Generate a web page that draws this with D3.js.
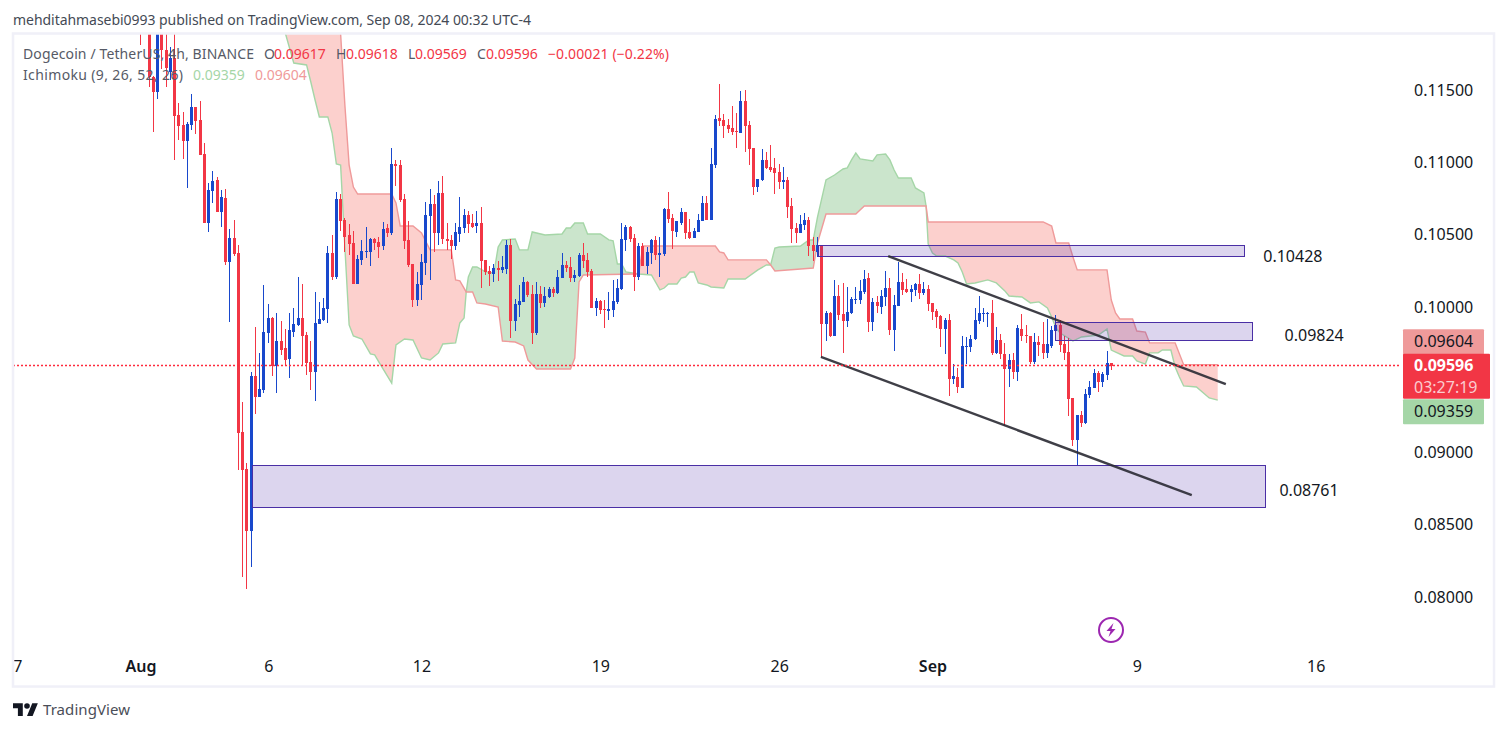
<!DOCTYPE html>
<html>
<head>
<meta charset="utf-8">
<script src="https://cdn.jsdelivr.net/npm/d3@7"></script>
<style>
html, body { margin: 0; background: #fff; }
svg { display: block; }
text { font-family: "Noto Sans", sans-serif; }
</style>
</head>
<body>
<svg id="chart" width="1507" height="731"></svg>
<script>
// 4h candles, bar 0 = Aug 1 00:00, one row per bar: open, high, low, close
const ohlc = [
[0.12400,0.12500,0.11810,0.12000],[0.12600,0.12700,0.12150,0.12300],[0.12300,0.12400,0.11521,0.11590],[0.11590,0.11600,0.11210,0.11486],
[0.11486,0.12200,0.11438,0.12100],[0.12100,0.12250,0.11645,0.11776],[0.11776,0.11890,0.11521,0.11652],[0.11624,0.11797,0.11569,0.11721],
[0.11721,0.11950,0.11017,0.11321],[0.11327,0.11410,0.11155,0.11251],[0.11258,0.11348,0.11024,0.11148],[0.11148,0.11279,0.10824,0.11265],
[0.11258,0.11472,0.11224,0.11383],[0.11383,0.11383,0.11196,0.11286],[0.11293,0.11424,0.11051,0.11051],[0.11058,0.11134,0.10582,0.10582],
[0.10582,0.10858,0.10520,0.10810],[0.10803,0.10941,0.10720,0.10873],[0.10879,0.10899,0.10658,0.10658],[0.10658,0.10810,0.10554,0.10761],
[0.10754,0.10817,0.10292,0.10313],[0.10313,0.10540,0.09898,0.10478],[0.10478,0.10603,0.10354,0.10368],[0.10375,0.10430,0.08877,0.09132],
[0.09139,0.09346,0.08138,0.08877],[0.08884,0.08925,0.08055,0.08456],[0.08456,0.09553,0.08207,0.09526],[0.09526,0.09864,0.09263,0.09381],
[0.09381,0.09684,0.09381,0.09436],[0.09429,0.10154,0.09408,0.09830],[0.09823,0.10023,0.09753,0.09926],[0.09926,0.09933,0.09526,0.09595],
[0.09595,0.09961,0.09408,0.09767],[0.09767,0.09905,0.09671,0.09705],[0.09719,0.09850,0.09602,0.09636],[0.09643,0.09961,0.09512,0.09843],
[0.09829,0.09995,0.09795,0.09885],[0.09878,0.10209,0.09871,0.09926],[0.09926,0.10161,0.09595,0.09802],[0.09809,0.09829,0.09533,0.09615],
[0.09622,0.09767,0.09429,0.09553],[0.09553,0.10106,0.09353,0.09892],[0.09885,0.10037,0.09885,0.09919],[0.09912,0.10064,0.09905,0.09995],
[0.09988,0.10423,0.09892,0.10375],[0.10375,0.10499,0.10189,0.10210],[0.10210,0.10796,0.10195,0.10748],[0.10748,0.10782,0.10527,0.10596],
[0.10603,0.10616,0.10382,0.10485],[0.10499,0.10575,0.10361,0.10437],[0.10444,0.10527,0.10161,0.10161],[0.10161,0.10361,0.10161,0.10333],
[0.10327,0.10465,0.10292,0.10389],[0.10382,0.10554,0.10340,0.10389],[0.10382,0.10478,0.10285,0.10471],[0.10471,0.10478,0.10396,0.10444],
[0.10451,0.10485,0.10340,0.10416],[0.10423,0.10589,0.10396,0.10540],[0.10547,0.10575,0.10485,0.10513],[0.10513,0.11100,0.10499,0.10989],
[0.10989,0.11017,0.10837,0.10975],[0.10982,0.11017,0.10727,0.10741],[0.10748,0.10782,0.10402,0.10458],[0.10465,0.10596,0.10278,0.10292],
[0.10299,0.10299,0.10002,0.10050],[0.10050,0.10244,0.10009,0.10161],[0.10154,0.10368,0.10050,0.10313],[0.10306,0.10727,0.10223,0.10637],
[0.10630,0.10817,0.10189,0.10713],[0.10713,0.10775,0.10382,0.10513],[0.10513,0.10872,0.10430,0.10789],[0.10789,0.10907,0.10437,0.10471],
[0.10471,0.10582,0.10396,0.10458],[0.10465,0.10499,0.10333,0.10423],[0.10423,0.10582,0.10396,0.10520],[0.10506,0.10761,0.10451,0.10554],
[0.10547,0.10678,0.10513,0.10637],[0.10637,0.10665,0.10513,0.10575],[0.10582,0.10644,0.10547,0.10554],[0.10561,0.10665,0.10513,0.10582],
[0.10582,0.10692,0.10133,0.10320],[0.10327,0.10327,0.10223,0.10244],[0.10251,0.10285,0.10147,0.10230],[0.10230,0.10299,0.10175,0.10271],
[0.10271,0.10320,0.10182,0.10258],[0.10258,0.10354,0.10237,0.10278],[0.10264,0.10465,0.10230,0.10430],[0.10430,0.10471,0.09788,0.09905],
[0.09905,0.10057,0.09836,0.10023],[0.10016,0.10154,0.09933,0.10043],[0.10037,0.10209,0.10037,0.10175],[0.10175,0.10182,0.10071,0.10085],
[0.10092,0.10154,0.09747,0.09823],[0.09823,0.10175,0.09809,0.10092],[0.10092,0.10147,0.09995,0.10030],[0.10030,0.10140,0.10002,0.10078],
[0.10071,0.10140,0.10064,0.10126],[0.10126,0.10140,0.10071,0.10099],[0.10099,0.10258,0.10092,0.10209],[0.10202,0.10375,0.10202,0.10292],
[0.10292,0.10320,0.10244,0.10271],[0.10278,0.10347,0.10175,0.10202],[0.10202,0.10258,0.10175,0.10223],[0.10216,0.10375,0.10209,0.10361],
[0.10361,0.10444,0.10271,0.10320],[0.10327,0.10375,0.10209,0.10244],[0.10251,0.10264,0.09995,0.09995],[0.09995,0.10064,0.09940,0.10043],
[0.10043,0.10050,0.09954,0.09981],[0.09988,0.10050,0.09857,0.09981],[0.09975,0.10106,0.09912,0.09988],[0.09981,0.10189,0.09933,0.10043],
[0.10037,0.10195,0.10023,0.10133],[0.10126,0.10582,0.10120,0.10471],[0.10465,0.10568,0.10389,0.10554],[0.10554,0.10561,0.10451,0.10471],
[0.10478,0.10506,0.10113,0.10209],[0.10209,0.10444,0.10189,0.10423],[0.10423,0.10444,0.10285,0.10285],[0.10285,0.10416,0.10230,0.10382],
[0.10375,0.10471,0.10299,0.10465],[0.10465,0.10492,0.10327,0.10361],[0.10361,0.10485,0.10209,0.10375],[0.10368,0.10685,0.10354,0.10678],
[0.10678,0.10796,0.10582,0.10610],[0.10616,0.10644,0.10402,0.10527],[0.10520,0.10596,0.10485,0.10596],[0.10582,0.10685,0.10568,0.10658],
[0.10658,0.10658,0.10471,0.10513],[0.10520,0.10610,0.10471,0.10478],[0.10478,0.10547,0.10478,0.10527],[0.10520,0.10644,0.10520,0.10603],
[0.10596,0.10768,0.10596,0.10720],[0.10720,0.10768,0.10603,0.10603],[0.10603,0.11100,0.10603,0.10989],[0.10982,0.11327,0.10962,0.11300],
[0.11307,0.11541,0.11251,0.11286],[0.11293,0.11334,0.11169,0.11251],[0.11258,0.11300,0.11203,0.11231],[0.11238,0.11390,0.11189,0.11210],
[0.11217,0.11341,0.11100,0.11210],[0.11203,0.11493,0.11203,0.11424],[0.11424,0.11500,0.11072,0.11251],[0.11258,0.11286,0.10982,0.11093],
[0.11100,0.11100,0.10775,0.10830],[0.10830,0.10886,0.10796,0.10886],[0.10879,0.11093,0.10872,0.11017],[0.11017,0.11072,0.10955,0.10962],
[0.10969,0.11120,0.10934,0.10948],[0.10962,0.11031,0.10782,0.10927],[0.10934,0.10989,0.10817,0.10865],[0.10865,0.10969,0.10817,0.10879],
[0.10879,0.10899,0.10616,0.10692],[0.10699,0.10754,0.10444,0.10540],[0.10547,0.10582,0.10444,0.10513],[0.10513,0.10637,0.10513,0.10575],
[0.10568,0.10651,0.10534,0.10603],[0.10603,0.10623,0.10354,0.10423],[0.10430,0.10485,0.10320,0.10389],[0.10382,0.10485,0.10347,0.10430],
[0.10430,0.10430,0.09650,0.09885],[0.09885,0.09975,0.09767,0.09961],[0.09961,0.09968,0.09795,0.09802],[0.09802,0.10189,0.09802,0.10078],
[0.10078,0.10154,0.09912,0.09947],[0.09954,0.10168,0.09684,0.09905],[0.09905,0.10140,0.09864,0.09968],[0.09961,0.10071,0.09954,0.10057],
[0.10050,0.10140,0.10023,0.10057],[0.10050,0.10189,0.10023,0.10113],[0.10106,0.10258,0.10092,0.10195],[0.10202,0.10237,0.09829,0.09898],
[0.09898,0.10064,0.09836,0.10037],[0.10037,0.10078,0.09961,0.10009],[0.10002,0.10120,0.09954,0.10078],[0.10071,0.10251,0.10009,0.10133],
[0.10133,0.10202,0.09809,0.09843],[0.09843,0.10085,0.09698,0.10016],[0.10009,0.10313,0.10009,0.10175],[0.10175,0.10237,0.10085,0.10120],
[0.10126,0.10195,0.10099,0.10106],[0.10106,0.10154,0.10037,0.10126],[0.10120,0.10168,0.10078,0.10161],[0.10161,0.10230,0.10057,0.10099],
[0.10099,0.10175,0.10085,0.10126],[0.10126,0.10154,0.09975,0.10023],[0.10030,0.10030,0.09912,0.09968],[0.09975,0.09988,0.09857,0.09933],
[0.09940,0.09947,0.09726,0.09850],[0.09850,0.09926,0.09678,0.09912],[0.09912,0.09954,0.09388,0.09505],[0.09505,0.09609,0.09471,0.09526],
[0.09519,0.09581,0.09408,0.09450],[0.09443,0.09802,0.09443,0.09733],[0.09726,0.09795,0.09609,0.09733],[0.09726,0.09809,0.09692,0.09781],
[0.09781,0.09995,0.09774,0.09912],[0.09905,0.10078,0.09885,0.09961],[0.09954,0.09995,0.09898,0.09961],[0.09954,0.09968,0.09864,0.09961],
[0.09961,0.10050,0.09671,0.09684],[0.09684,0.09864,0.09678,0.09774],[0.09774,0.09816,0.09643,0.09678],[0.09678,0.09753,0.09181,0.09574],
[0.09574,0.09678,0.09450,0.09636],[0.09636,0.09684,0.09505,0.09553],[0.09553,0.09878,0.09491,0.09857],[0.09850,0.09954,0.09767,0.09802],
[0.09809,0.09878,0.09753,0.09802],[0.09802,0.09802,0.09609,0.09622],[0.09622,0.09823,0.09609,0.09760],[0.09760,0.09802,0.09664,0.09740],
[0.09747,0.09898,0.09643,0.09685],[0.09685,0.09919,0.09650,0.09747],[0.09733,0.09871,0.09719,0.09843],[0.09836,0.09947,0.09836,0.09878],
[0.09878,0.09912,0.09692,0.09740],[0.09747,0.09802,0.09636,0.09685],[0.09692,0.09788,0.09250,0.09367],[0.09374,0.09374,0.09043,0.09084],
[0.09084,0.09256,0.08905,0.09256],[0.09256,0.09284,0.09174,0.09201],[0.09201,0.09436,0.09194,0.09402],[0.09395,0.09491,0.09374,0.09450],
[0.09443,0.09574,0.09443,0.09546],[0.09546,0.09560,0.09415,0.09484],[0.09484,0.09553,0.09450,0.09540],[0.09533,0.09698,0.09498,0.09615],
[0.09617,0.09618,0.09569,0.09596]
];

// Ichimoku leading spans: bar numbers and prices, reversal points only
const spanABars = [34,36,39,40,41,42,44,45,46,47,48,49,50,52,54,55,56,59,60,62,64,66,68,70,71,74,75,76,76.5,77,78,79,81,83,84,85,88,89,91,92,95,99,100,101,102,104,105,108,110,111,112,113,114,117,120,122,123,124,126,127,128,129,130,131,133,134,137,138,142,145,147,148,149,150,155,157,158,159,161,163,165,166,167,168,169,172,173,175,176,177,178,181,182,184,184.5,185,186,187,189,191,192,193,194,196,199,201,203,204,207,209,211,213,214,215,216,219,221,225,227,228,231,233,234,236,237,239,240,242,243,244,245,248,251,253];
const spanA = [0.11894,0.11686,0.11673,0.11555,0.11431,0.11314,0.11314,0.11203,0.10989,0.10982,0.10416,0.09878,0.09802,0.09781,0.09678,0.09671,0.09622,0.09477,0.09740,0.09781,0.09774,0.09650,0.09636,0.09685,0.09747,0.09754,0.09892,0.09926,0.10106,0.10209,0.10278,0.10278,0.10244,0.10237,0.10416,0.10465,0.10471,0.10396,0.10396,0.10520,0.10499,0.10506,0.10547,0.10547,0.10582,0.10582,0.10506,0.10506,0.10465,0.10458,0.10299,0.10299,0.10244,0.10230,0.10223,0.10120,0.10133,0.10161,0.10161,0.10202,0.10209,0.10244,0.10244,0.10168,0.10154,0.10140,0.10133,0.10195,0.10195,0.10258,0.10292,0.10292,0.10409,0.10416,0.10423,0.10465,0.10465,0.10623,0.10879,0.10913,0.10955,0.10962,0.11017,0.11065,0.11024,0.11010,0.11052,0.11058,0.11017,0.10948,0.10892,0.10892,0.10824,0.10789,0.10699,0.10437,0.10375,0.10354,0.10354,0.10327,0.10306,0.10244,0.10161,0.10168,0.10189,0.10168,0.10113,0.10078,0.10071,0.10030,0.10037,0.09995,0.09933,0.09857,0.09822,0.09767,0.09795,0.09809,0.09850,0.09705,0.09664,0.09664,0.09629,0.09608,0.09685,0.09685,0.09705,0.09705,0.09588,0.09519,0.09457,0.09450,0.09374,0.09359];
const spanBBars = [46,47,48,49,50,51,59,60,61,64,66,68,73,74,75,76.5,78,79,81,84,85,88,90,91,93,101,102,103,104,116,117,118,135,136,137,138,147,148,149,158,159,161,168,170,184,184.5,185,212,214,215,218,219,220,227,228,229,230,233,234,236,237,243,245,253];
const spanB = [0.12190,0.11887,0.11396,0.10982,0.10830,0.10782,0.10782,0.10720,0.10561,0.10561,0.10513,0.10396,0.10396,0.10189,0.10182,0.10106,0.10106,0.10030,0.10023,0.10002,0.09767,0.09760,0.09733,0.09636,0.09574,0.09574,0.09650,0.10175,0.10223,0.10230,0.10230,0.10423,0.10423,0.10382,0.10375,0.10327,0.10327,0.10292,0.10251,0.10271,0.10444,0.10644,0.10644,0.10699,0.10699,0.10699,0.10589,0.10589,0.10561,0.10444,0.10444,0.10347,0.10258,0.10258,0.10050,0.09961,0.09919,0.09919,0.09836,0.09829,0.09754,0.09754,0.09604,0.09604];
const cloudTwists = [76.5,117,148,184.5];

const priceTicks = [0.115,0.11,0.105,0.1,0.09,0.085,0.08];
const dateBars = [-30,0,30,66,108,150,186,234,276];
const dateLabels = ["27","Aug","6","12","19","26","Sep","9","16"];

// drawn boxes: start bar, end bar, top price, bottom price
const zoneBars = [[26.2,264.1],[159.1,259.2],[214.8,261]];
const zoneTop = [0.08911,0.1043,0.09898];
const zoneBottom = [0.08621,0.10354,0.09771];
const zoneLabels = ["0.08761","0.10428","0.09824"];
const zoneLabelBars = [267.5,263.7,268.7];

// channel lines
const trendBars = [[175.6,254.9],[159.8,246.9]];
const trendPrices = [[0.10354,0.0947],[0.09657,0.08704]];

const spanALast = 0.09359, spanBLast = 0.09604;

const red = "#F23645", blue = "#1848CC", spanAColor = "#A5D6A7", spanBColor = "#EF9A9A";

var svg = d3.select("#chart");
var pane = {left: 13, top: 34, right: 1403, bottom: 687};

var x = d3.scaleLinear().domain([0, 228]).range([140.5, 1111.28]);
var y = d3.scaleLinear().domain([0.08, 0.115]).range([597, 90]);

svg.append("clipPath").attr("id", "pane").append("rect")
	.attr("x", pane.left).attr("y", pane.top)
	.attr("width", pane.right - pane.left).attr("height", pane.bottom - pane.top);

var plot = svg.append("g").attr("clip-path", "url(#pane)");

// cloud fill, one polygon between each pair of twists
var cuts = [34].concat(cloudTwists, [253]);
var polyLine = d3.line().x(d => x(d[0])).y(d => y(d[1]));
var aPts = spanABars.map((b, i) => [b, spanA[i]]);
var bPts = spanBBars.map((b, i) => [b, spanB[i]]);
for (let k = 0; k < cuts.length - 1; k++){
	let pa = aPts.filter(d => d[0] >= cuts[k] && d[0] <= cuts[k + 1]);
	let pb = bPts.filter(d => d[0] >= cuts[k] && d[0] <= cuts[k + 1]);
	let aUp = d3.mean(pa, d => d[1]) > d3.mean(pb, d => d[1]);
	plot.append("path")
		.attr("d", polyLine(pa.concat(pb.slice().reverse())) + "Z")
		.attr("fill", aUp ? "rgba(67,160,71,0.28)" : "rgba(244,67,54,0.25)");
}
plot.append("path").attr("d", polyLine(aPts)).attr("fill", "none").attr("stroke", spanAColor).attr("stroke-width", 1.4);
plot.append("path").attr("d", polyLine(bPts)).attr("fill", "none").attr("stroke", spanBColor).attr("stroke-width", 1.4);

// candles
var px = d => Math.floor(x(d)) + 0.5;
var candles = plot.append("g").attr("shape-rendering", "crispEdges")
	.selectAll("g").data(ohlc).enter().append("g");
candles.append("line")
	.attr("x1", (d, i) => px(i)).attr("x2", (d, i) => px(i))
	.attr("y1", d => y(d[1])).attr("y2", d => y(d[2]))
	.attr("stroke", d => d[3] >= d[0] ? blue : red);
candles.append("rect")
	.attr("x", (d, i) => px(i) - 1.5)
	.attr("width", 3)
	.attr("y", d => Math.round(y(Math.max(d[0], d[3]))))
	.attr("height", d => Math.max(1, Math.round(Math.abs(y(d[0]) - y(d[3])))))
	.attr("fill", d => d[3] >= d[0] ? blue : red);

// last price line
var lastClose = ohlc[ohlc.length - 1][3];
svg.append("line")
	.attr("x1", pane.left).attr("x2", pane.right - 3)
	.attr("y1", Math.floor(y(lastClose)) + 0.5).attr("y2", Math.floor(y(lastClose)) + 0.5)
	.attr("stroke", "#FF2A3C").attr("stroke-dasharray", "2 2").attr("stroke-width", 1.5);

// zones
zoneBars.forEach((b, i) => {
	plot.append("rect")
		.attr("x", Math.round(x(b[0])) + 0.5).attr("width", Math.round(x(b[1]) - x(b[0])))
		.attr("y", Math.round(y(zoneTop[i])) + 0.5).attr("height", Math.round(y(zoneBottom[i]) - y(zoneTop[i])))
		.attr("fill", "rgba(81,45,168,0.2)")
		.attr("stroke", "#4A2FA5").attr("stroke-width", 1);
	svg.append("text")
		.attr("x", x(zoneLabelBars[i]))
		.attr("y", [490.5, 256.5, 335][i])
		.attr("dy", "0.35em")
		.attr("font-size", 16).attr("fill", "#131722")
		.text(zoneLabels[i]);
});

// channel
trendBars.forEach((b, i) => {
	plot.append("line")
		.attr("x1", x(b[0])).attr("x2", x(b[1]))
		.attr("y1", y(trendPrices[i][0])).attr("y2", y(trendPrices[i][1]))
		.attr("stroke", "#2A2A33").attr("stroke-opacity", 0.9).attr("stroke-width", 2.4);
});

// axes
svg.append("g").attr("transform", "translate(1414,0)")
	.call(d3.axisRight(y).tickValues(priceTicks).tickFormat(d => d.toFixed(5)).tickSize(0).tickPadding(0))
	.call(g => g.select(".domain").remove())
	.call(g => g.selectAll("text").attr("font-size", 16).attr("fill", "#131722").style("font-family", '"Noto Sans", sans-serif'));

var xAxisG = svg.append("g").attr("clip-path", "url(#pane)");
xAxisG.append("g").attr("transform", "translate(0,661)")
	.call(d3.axisBottom(x).tickValues(dateBars).tickFormat((d, i) => dateLabels[i]).tickSize(0).tickPadding(0))
	.call(g => g.select(".domain").remove())
	.call(g => g.selectAll("text").attr("font-size", 16).attr("fill", "#131722")
		.attr("font-weight", (d, i) => (dateLabels[i] == "Aug" || dateLabels[i] == "Sep") ? 600 : 400)
		.style("font-family", '"Noto Sans", sans-serif'));

// frame
svg.append("rect")
	.attr("x", pane.left).attr("y", pane.top - 0.5)
	.attr("width", 1481).attr("height", pane.bottom - pane.top)
	.attr("fill", "none").attr("stroke", "#F0F0F8").attr("stroke-width", 2.5);

// price tags on the scale
function tag(top, h, w, fill){
	svg.append("rect").attr("x", 1403).attr("y", top).attr("width", w).attr("height", h).attr("fill", fill).attr("rx", 1);
}
tag(y(spanBLast) - 35.5, 25, 81, spanBColor);
tag(y(spanALast) - 1, 25, 81, spanAColor);
tag(y(lastClose) - 12, 45, 87, red);
function tagText(t, yy, fill, op, weight){
	svg.append("text").attr("x", 1414).attr("y", yy).attr("dy", "0.35em").attr("font-size", 16)
		.attr("fill", fill).attr("fill-opacity", op).attr("font-weight", weight).text(t);
}
tagText(spanBLast.toFixed(5), 341.5, "#131722", 1, 400);
tagText(lastClose.toFixed(5), 365, "#fff", 1, 700);
tagText("03:27:19", 387.5, "#fff", 0.75, 400);
tagText(spanALast.toFixed(5), 411.5, "#131722", 1, 400);

// header and legend
svg.append("text").attr("x", 13).attr("y", 25).attr("font-size", 14).attr("fill", "#444a55")
	.attr("textLength", 518).attr("lengthAdjust", "spacing")
	.text("mehditahmasebi0993 published on TradingView.com, Sep 08, 2024 00:32 UTC-4");

function legend(yy, parts){
	parts.forEach(p => {
		let t = svg.append("text").attr("x", p[0]).attr("y", yy).attr("font-size", 14).attr("fill", p[2]).text(p[1]);
		if (p[3]) t.attr("textLength", p[3]).attr("lengthAdjust", "spacing");
	});
}
var ink = "#565a66";
legend(59, [
	[23, "Dogecoin / TetherUS, 4h, BINANCE", ink, 231],
	[264, "O", ink], [274, ohlc[228][0].toFixed(5), red],
	[336, "H", ink], [346, ohlc[228][1].toFixed(5), red],
	[408, "L", ink], [415, ohlc[228][2].toFixed(5), red],
	[477, "C", ink], [486, ohlc[228][3].toFixed(5), red],
	[548, "\u22120.00021 (\u22120.22%)", red, 121]
]);
legend(80, [
	[23, "Ichimoku (9, 26, 52, 26)", ink, 160],
	[193, spanALast.toFixed(5), spanAColor],
	[255, spanBLast.toFixed(5), spanBColor]
]);

// lightning badge
var badge = svg.append("g").attr("transform", "translate(1111,630)");
badge.append("circle").attr("r", 12).attr("fill", "#fff").attr("stroke", "#9C27B0").attr("stroke-width", 2);
badge.append("path").attr("d", "M2.5,-7 L-4.5,1 L-0.5,1 L-2.5,7 L4.5,-1 L0.5,-1 Z").attr("fill", "#9C27B0");

// TradingView logo
svg.append("path")
	.attr("transform", "translate(13,700.5) scale(0.7)")
	.attr("d", "M14 22H7V11H0V4h14v18zM28 22h-8l7.5-18h8L28 22z")
	.attr("fill", "#131722");
svg.append("circle").attr("cx", 27).attr("cy", 706).attr("r", 2.8).attr("fill", "#131722");
svg.append("text").attr("x", 43).attr("y", 715).attr("font-size", 15).attr("fill", "#4a4e58")
	.attr("textLength", 87).attr("lengthAdjust", "spacing").text("TradingView");
</script>
</body>
</html>
